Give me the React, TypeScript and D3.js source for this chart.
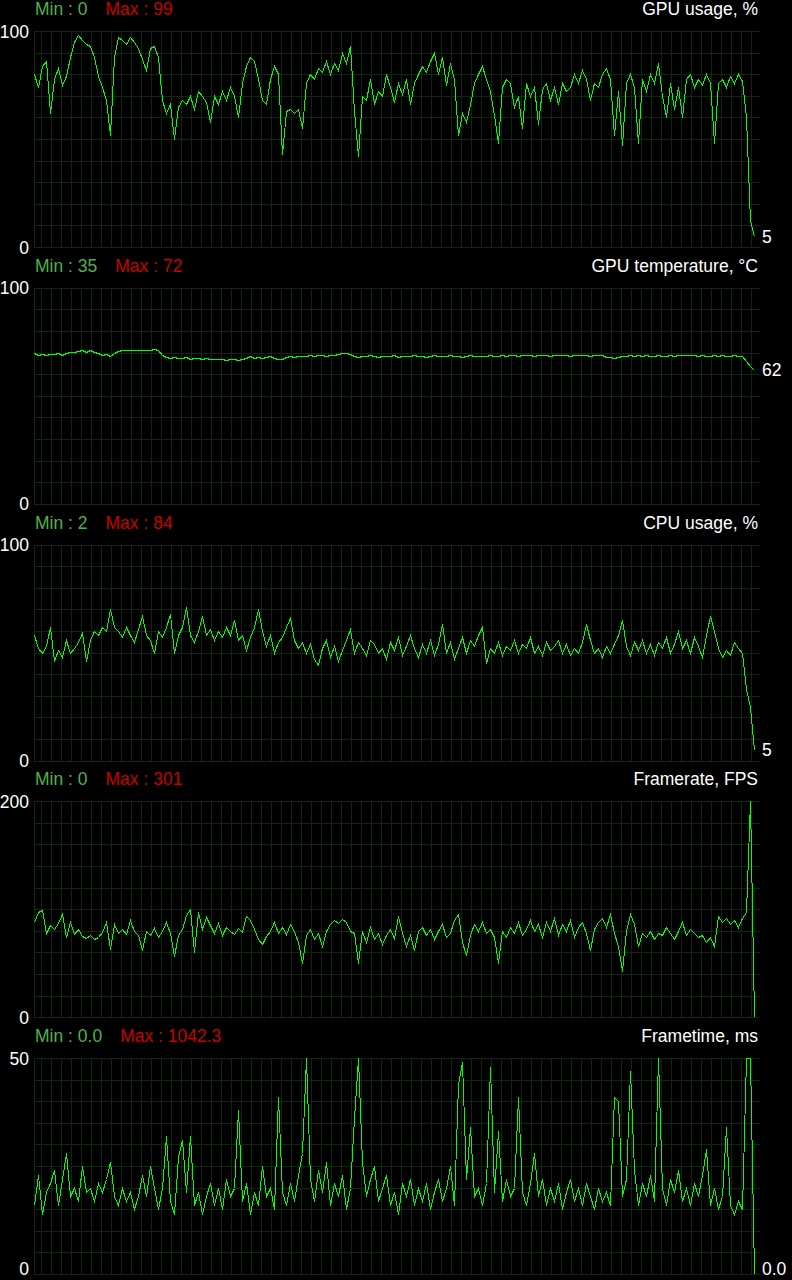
import React, { useEffect, useRef } from 'react';
import * as d3 from 'd3';

// samples, one every ~4px of the monitoring window
const gpuUsage = [
  80, 74, 84, 86, 62, 78, 83, 75, 79, 88,
  95, 98, 96, 94, 93, 88, 79, 74, 68, 52,
  88, 97, 96, 94, 97, 95, 92, 87, 82, 92,
  93, 88, 68, 62, 66, 50, 65, 68, 66, 70,
  64, 72, 70, 67, 58, 70, 66, 72, 68, 74,
  70, 60, 76, 84, 88, 86, 78, 68, 66, 78,
  84, 80, 43, 63, 64, 62, 64, 55, 76, 80,
  78, 83, 81, 86, 80, 85, 82, 90, 85, 93,
  63, 42, 70, 68, 78, 66, 72, 70, 80, 74,
  67, 76, 71, 78, 66, 76, 80, 84, 81, 86,
  90, 80, 88, 75, 85, 78, 52, 62, 58, 66,
  76, 80, 84, 78, 72, 61, 48, 74, 78, 76,
  65, 70, 55, 76, 70, 74, 57, 73, 76, 68,
  74, 66, 76, 72, 74, 80, 76, 82, 78, 68,
  76, 74, 80, 83, 78, 52, 72, 47, 76, 80,
  74, 48, 78, 72, 80, 76, 85, 70, 60, 76,
  64, 74, 60, 78, 80, 74, 78, 75, 80, 76,
  48, 76, 78, 74, 79, 76, 80, 77, 60, 12,
  5,
];

const gpuTemp = [
  69.6, 69.0, 69.5, 68.8, 69.4,
  69.2, 69.8, 69.0, 69.6, 70.4, 70.2,
  70.8, 71.2, 70.4, 71.0, 70.2, 69.8,
  68.8, 69.2, 68.6, 69.6,
  70.8, 71.0, 71.0, 71.0, 71.0, 71.0, 71.0, 71.0, 71.2, 71.8, 71.4,
  68.8,
  68.0, 67.6, 67.8, 67.4, 67.6, 67.8, 67.2, 67.6, 67.4, 67.2, 67.6, 67.0, 67.2,
  66.8, 67.0, 66.6, 66.8, 67.2, 66.6, 67.0, 67.4,
  68.2, 67.6, 68.0, 67.4, 67.8, 68.4, 67.6, 67.2, 67.0, 67.8, 68.2, 68.0, 68.4, 68.6,
  68.4, 68.8, 68.6, 69.0, 68.8, 68.6, 69.0, 68.8,
  69.4, 69.8, 69.6, 69.4,
  68.4, 68.0, 68.6, 68.2, 68.8, 68.4, 68.0, 68.6, 68.2, 68.4,
  68.8, 68.0, 68.4, 68.6, 68.2, 68.8, 68.4, 68.6, 68.0, 68.4,
  68.8, 68.6, 68.2, 68.4, 68.8, 68.6, 68.4, 68.0, 68.6, 68.8,
  68.4, 68.2, 68.6, 68.4, 68.8, 68.6, 68.4, 68.8,
  68.6, 68.8, 69.0, 68.6, 68.8, 68.8, 69.0, 68.6, 68.8, 69.0,
  68.8, 68.6, 68.8, 69.0, 69.0, 68.8, 68.6, 68.8, 69.0, 68.8,
  68.8, 68.6, 68.8, 69.0, 68.8,
  67.8, 67.8, 67.6, 67.8, 68.2,
  68.6, 68.8, 68.4, 68.8, 68.6, 68.8, 68.4, 68.6, 68.8, 68.6,
  68.4, 68.8, 68.6, 68.8, 68.8, 68.8, 68.8, 68.8, 68.6, 68.8,
  68.4, 68.6, 68.8, 68.6, 68.8, 68.4, 68.6, 68.8, 68.6, 68.2,
  66.0, 64.0, 62.0,
];

const cpuUsage = [
  58, 52, 50, 53, 62, 46, 51, 48, 56, 50,
  52, 55, 59, 46, 56, 60, 58, 62, 60, 70,
  62, 60, 57, 62, 58, 55, 61, 67, 58, 56,
  50, 60, 57, 62, 68, 50, 58, 62, 71, 58,
  55, 60, 67, 58, 61, 56, 60, 57, 62, 58,
  65, 56, 58, 51, 57, 62, 70, 60, 53, 58,
  50, 55, 57, 62, 66, 56, 52, 55, 50, 54,
  47, 44, 52, 56, 48, 53, 46, 51, 56, 61,
  50, 55, 52, 49, 56, 54, 50, 52, 47, 55,
  51, 57, 49, 53, 58, 52, 48, 54, 50, 56,
  49, 54, 63, 50, 55, 47, 52, 57, 50, 56,
  53, 58, 62, 45, 52, 50, 55, 49, 53, 51,
  56, 50, 54, 52, 57, 50, 53, 49, 55, 51,
  53, 56, 50, 54, 49, 52, 50, 55, 63, 56,
  50, 52, 48, 53, 50, 54, 58, 65, 53, 49,
  55, 51, 56, 50, 54, 49, 55, 52, 57, 50,
  54, 60, 52, 56, 50, 57, 53, 48, 58, 67,
  60, 52, 48, 51, 49, 55, 52, 50, 33, 25,
  5,
];

const framerate = [
  88, 97, 99, 78, 85, 82, 87, 96, 74, 88,
  77, 82, 75, 73, 76, 72, 74, 79, 88, 63,
  86, 78, 82, 77, 90, 80, 76, 62, 80, 76,
  83, 74, 80, 88, 78, 57, 76, 82, 95, 100,
  60, 97, 82, 93, 85, 78, 87, 76, 84, 80,
  77, 83, 79, 94, 90, 82, 72, 68, 75, 80,
  88, 78, 84, 77, 86, 80, 70, 50, 76, 82,
  72, 78, 66, 80, 86, 90, 87, 91, 88, 80,
  78, 50, 80, 70, 84, 72, 78, 68, 76, 82,
  73, 94, 78, 66, 76, 62, 80, 84, 76, 82,
  72, 80, 86, 74, 78, 90, 96, 70, 58, 76,
  86, 80, 88, 78, 82, 74, 50, 80, 74, 84,
  78, 88, 76, 82, 90, 80, 86, 74, 88, 80,
  92, 76, 86, 80, 90, 74, 84, 88, 78, 62,
  82, 88, 92, 84, 96, 78, 66, 43, 80, 96,
  86, 66, 78, 74, 80, 72, 78, 76, 84, 78,
  72, 80, 88, 76, 82, 78, 74, 76, 70, 74,
  66, 94, 88, 92, 86, 90, 84, 92, 97, 301,
  0,
];

const frametime = [
  16, 23, 14, 19, 21, 24, 16, 22, 28, 18,
  20, 17, 25, 19, 20, 17, 21, 19, 22, 26,
  18, 16, 20, 17, 19, 15, 18, 23, 18, 25,
  20, 15, 20, 32, 17, 14, 27, 31, 19, 32,
  16, 19, 14, 18, 21, 16, 20, 15, 22, 18,
  20, 38, 17, 21, 14, 19, 16, 25, 18, 20,
  15, 41, 19, 16, 21, 17, 23, 28, 50, 22,
  17, 24, 19, 26, 16, 21, 18, 23, 15, 20,
  36, 50, 26, 18, 22, 25, 17, 20, 23, 16,
  19, 14, 21, 18, 22, 16, 20, 17, 21, 15,
  19, 22, 17, 20, 25, 16, 44, 49, 22, 34,
  18, 20, 16, 21, 48, 19, 33, 17, 22, 18,
  20, 41, 19, 16, 21, 28, 18, 22, 16, 20,
  17, 21, 15, 19, 22, 17, 20, 16, 21, 18,
  15, 20, 17, 19, 16, 41, 40, 18, 22, 47,
  24, 16, 21, 18, 23, 17, 50, 20, 16, 22,
  19, 24, 17, 20, 16, 21, 18, 23, 29, 16,
  20, 15, 18, 34, 16, 14, 17, 15, 1042, 300,
  0,
];

const titles = ['GPU usage, %', 'GPU temperature, \u00b0C', 'CPU usage, %', 'Framerate, FPS', 'Frametime, ms'];
const scaleMax = [100, 100, 100, 200, 50];
const minLabels = ['Min : 0', 'Min : 35', 'Min : 2', 'Min : 0', 'Min : 0.0'];
const maxLabels = ['Max : 99', 'Max : 72', 'Max : 84', 'Max : 301', 'Max : 1042.3'];
const currentLabels = ['5', '62', '5', '', '0.0'];

const App: React.FC = () => {
  const svgRef = useRef<SVGSVGElement>(null);

  useEffect(() => {
    document.body.style.margin = '0';
    document.body.style.background = '#000';

    const width = 792;
    const height = 1280;
    const left = 34;
    const right = 760;
    const dataEnd = 754;
    const plotH = 216;
    const step = 256.75;
    const font = '"Liberation Sans", Arial, sans-serif';
    const gridColor = '#0f280f';
    const lowestBaseline = 1275; // keep the bottom labels inside the page

    const series = [gpuUsage, gpuTemp, cpuUsage, framerate, frametime];

    const svg = d3.select(svgRef.current)
      .attr('width', width)
      .attr('height', height);
    svg.selectAll('*').remove();

    svg.append('rect')
      .attr('width', width)
      .attr('height', height)
      .attr('fill', '#000');

    series.forEach((values, k) => {
      const top = 31 + k * step;
      const bottom = top + plotH;
      const max = scaleMax[k];

      const y = d3.scaleLinear().domain([0, max]).range([bottom, top]);
      const x = d3.scaleLinear().domain([0, values.length - 1]).range([left, dataEnd]);

      const g = svg.append('g');

      // grid
      const hLines = d3.range(0, 11).map(j => Math.round(top + j * plotH / 10) + 0.5);
      g.selectAll('line.h')
        .data(hLines)
        .enter().append('line')
        .attr('x1', left).attr('x2', right)
        .attr('y1', d => d).attr('y2', d => d)
        .attr('stroke', gridColor)
        .attr('shape-rendering', 'crispEdges');

      const vLines = [left + 0.5].concat(d3.range(41, 752, 10).map(v => v + 0.5));
      g.selectAll('line.v')
        .data(vLines)
        .enter().append('line')
        .attr('x1', d => d).attr('x2', d => d)
        .attr('y1', top).attr('y2', bottom + 1)
        .attr('stroke', gridColor)
        .attr('shape-rendering', 'crispEdges');

      // data line, clamped to the visible range
      const line = d3.line<number>()
        .x((_, i) => Math.round(x(i)) + 0.5)
        .y(d => Math.round(y(Math.max(0, Math.min(max, d)))) + 0.5);

      g.append('path')
        .datum(values)
        .attr('d', line)
        .attr('fill', 'none')
        .attr('stroke', '#00ff00')
        .attr('stroke-width', 1)
        .attr('shape-rendering', 'crispEdges');

      // header
      const header = g.append('text')
        .attr('x', 35)
        .attr('y', 15 + k * step)
        .attr('font-family', font)
        .attr('font-size', 17.5);
      header.append('tspan').attr('fill', '#4db34d').text(minLabels[k]);
      header.append('tspan').attr('dx', 18).attr('fill', '#c80000').text(maxLabels[k]);

      g.append('text')
        .attr('x', 758)
        .attr('y', 15 + k * step)
        .attr('text-anchor', 'end')
        .attr('font-family', font)
        .attr('font-size', 17.5)
        .attr('fill', '#fff')
        .text(titles[k]);

      // axis labels
      [max, 0].forEach(v => {
        g.append('text')
          .attr('x', 29)
          .attr('y', Math.min(lowestBaseline, y(v) + 6.5))
          .attr('text-anchor', 'end')
          .attr('font-family', font)
          .attr('font-size', 17.5)
          .attr('fill', '#fff')
          .text(String(v));
      });

      if (currentLabels[k]) {
        const last = values[values.length - 1];
        g.append('text')
          .attr('x', 762)
          .attr('y', Math.min(lowestBaseline, y(Math.min(max, last)) + 6.5))
          .attr('font-family', font)
          .attr('font-size', 17.5)
          .attr('fill', '#fff')
          .text(currentLabels[k]);
      }
    });
  }, []);

  return (
    <svg ref={svgRef} style={{ display: 'block', position: 'absolute', left: 0, top: 0 }}></svg>
  );
};

export default App;
